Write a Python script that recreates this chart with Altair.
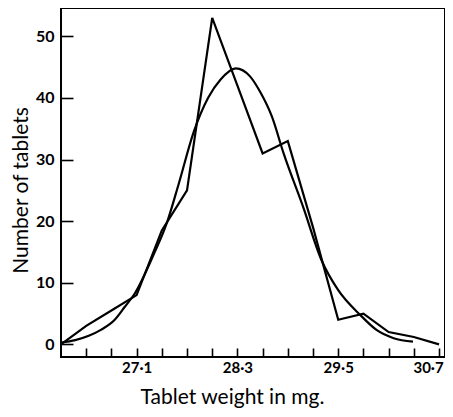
import altair as alt
import pandas as pd

# Frequency polygon (tablet weight class mid-points, number of tablets)
poly_x = [26.2, 26.5, 26.8, 27.1, 27.4, 27.7, 28.0, 28.3, 28.6, 28.9, 29.2, 29.5, 29.8, 30.1, 30.4, 30.7]
poly_y = [0, 3, 5.5, 8, 18.5, 25, 53, 42, 31, 33, 19, 4, 5, 2, 1.2, 0]

# Fitted normal curve
curve_x = [26.2, 26.37, 26.53, 26.68, 26.84, 26.96, 27.08, 27.3, 27.46, 27.6, 27.78, 27.95, 28.1,
           28.28, 28.45, 28.57, 28.71, 28.85, 29.08, 29.3, 29.5, 29.76, 29.96, 30.16, 30.39]
curve_y = [0.3, 0.7, 1.4, 2.4, 4.0, 6.1, 8.3, 14.5, 19.7, 26, 34.5, 40, 43,
           44.8, 43.5, 41, 37, 31, 22.4, 13.7, 8.8, 4.8, 2.3, 1.0, 0.44]

x_ticks = [26.5, 26.8, 27.1, 27.4, 27.7, 28.0, 28.3, 28.6, 28.9, 29.2, 29.5, 29.8, 30.1, 30.4, 30.7]
x_labelled = ["27.1", "28.3", "29.5", "30.7"]
y_ticks = [0, 10, 20, 30, 40, 50]

poly_df = pd.DataFrame({"x": poly_x, "y": poly_y})
curve_df = pd.DataFrame({"x": curve_x, "y": curve_y})

label_list = "[" + ",".join("'%s'" % s for s in x_labelled) + "]"
x_enc = alt.X(
    "x:Q",
    scale=alt.Scale(domain=[26.2, 30.771], nice=False, zero=False),
    axis=alt.Axis(
        values=x_ticks, offset=-9, tickSize=9, domain=False, grid=False,
        labelExpr="indexof(" + label_list + ", format(datum.value,'.1f')) >= 0 ? "
                  "replace(format(datum.value,'.1f'), '.', '\u00b7') : ''",
        labelOffset={"condition": {"test": "datum.value > 30.6", "value": -11}, "value": 0},
        labelPadding=3, labelFontSize=15, title="Tablet weight in mg.",
        titleX=171, titleY=55, titleBaseline="alphabetic", titleAlign="center",
    ),
)
y_enc = alt.Y(
    "y:Q",
    scale=alt.Scale(domain=[-2.05, 54.6], nice=False, zero=False),
    axis=alt.Axis(
        values=y_ticks, offset=-12, tickSize=12, domain=False, grid=False,
        format="d", labelPadding=7, labelFontSize=16, title="Number of tablets",
        titleX=-46, titleY=182, titleAngle=-90, titleBaseline="alphabetic", titleAlign="center",
    ),
)

poly = alt.Chart(poly_df).mark_line(color="black", strokeWidth=2.2, strokeJoin="miter").encode(
    x=x_enc, y=y_enc
)
curve = alt.Chart(curve_df).mark_line(color="black", strokeWidth=2.2, interpolate="monotone").encode(
    x=x_enc, y=y_enc
)

chart = alt.layer(poly, curve).properties(
    width=384, height=349,
    autosize=alt.AutoSizeParams(type="none"),
    padding={"left": 53, "top": 0, "right": 0, "bottom": 52},
    background="white",
).configure_view(
    stroke="black", strokeWidth=2
).configure_axis(
    tickColor="black", tickWidth=1.6, labelColor="black", titleColor="black",
    labelFont="Lato", labelFontWeight="bold",
    titleFont="Lato", titleFontSize=21, titleFontWeight="normal",
)

chart.save("out.html", embed_options={"renderer": "svg", "actions": False})
